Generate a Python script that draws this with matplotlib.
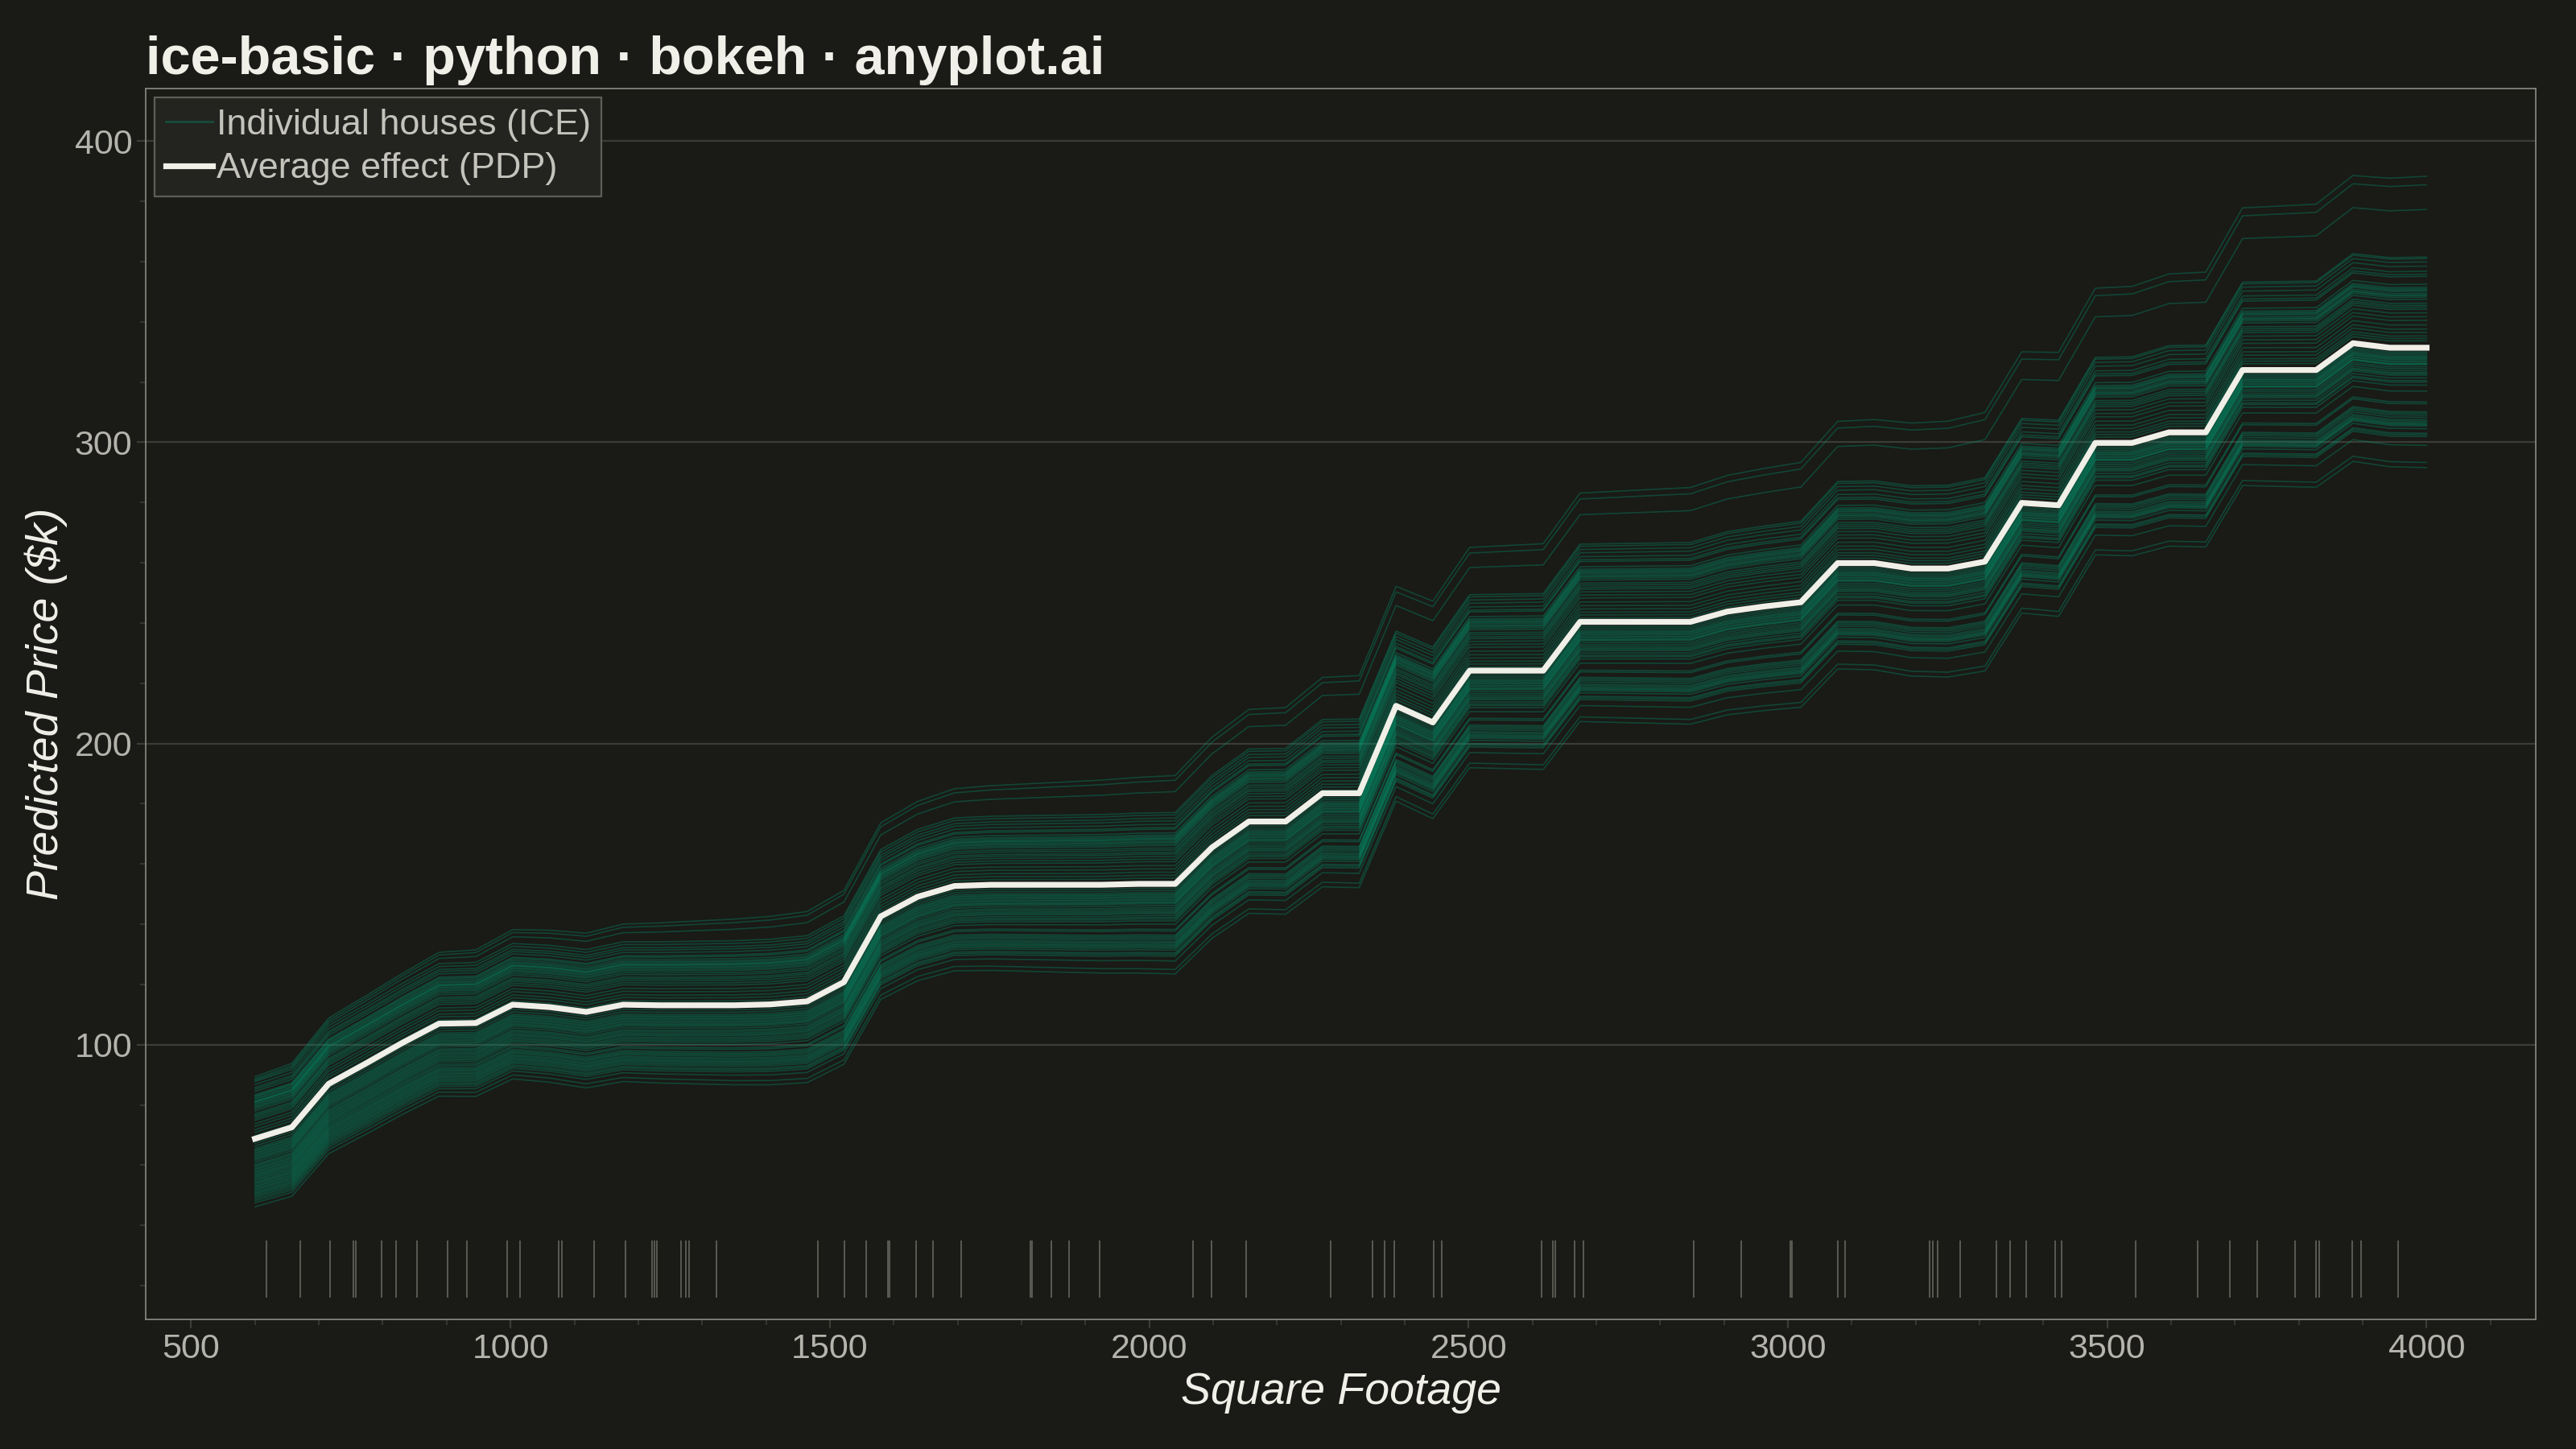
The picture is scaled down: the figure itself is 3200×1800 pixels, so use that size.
import matplotlib.pyplot as plt
import numpy as np

plt.rcParams['font.family'] = ['Liberation Sans', 'DejaVu Sans']

# grid of square footage values used for the partial dependence
sqft_grid = np.linspace(600, 4000, 60)

# average effect (PDP)
pdp_values = [68.8, 72.6, 87.0, 93.7, 100.6, 107.0, 107.2, 113.3, 112.5, 110.9,
              113.3, 113.1, 113.1, 113.1, 113.4, 114.4, 120.8, 142.6, 149.1, 152.7,
              153.1, 153.1, 153.1, 153.1, 153.4, 153.4, 165.5, 174.1, 174.1, 183.5,
              183.5, 212.5, 207.0, 224.2, 224.2, 224.2, 240.4, 240.4, 240.4, 240.4,
              243.8, 245.5, 246.9, 259.9, 259.9, 258.1, 258.1, 260.4, 279.9, 279.1,
              299.8, 299.8, 303.3, 303.3, 324.0, 324.0, 324.0, 332.9, 331.4, 331.4]

# individual house curves: value at 600 sqft and at 4000 sqft
ice_start = [89.4, 88.7, 87.8, 86.8, 85.8, 84.5, 83.4, 82.7, 82.2, 81.8,
             81.3, 80.9, 80.4, 80.0, 79.5, 79.1, 78.0, 77.1, 76.6, 76.1,
             74.9, 73.8, 72.9, 71.8, 70.9, 69.8, 68.5, 67.3, 66.4, 65.6,
             65.1, 64.7, 64.2, 63.8, 63.3, 62.9, 62.4, 62.0, 61.5, 60.9,
             60.2, 59.8, 59.3, 58.8, 58.4, 57.9, 57.5, 57.0, 56.6, 56.2,
             55.8, 55.3, 54.9, 54.4, 54.0, 53.6, 53.1, 52.7, 52.2, 51.8,
             51.3, 50.8, 50.4, 49.9, 49.4, 48.8, 48.2, 47.5, 46.2,
             88.2, 85.2, 83.0, 81.0, 78.6, 75.5]
ice_end = [388.3, 385.5, 377.3, 361.5, 361.0, 359.9, 358.5, 356.8, 355.8, 355.1,
           352.5, 351.5, 351.0, 350.6, 349.5, 348.7, 347.5, 346.2, 345.5, 344.9,
           344.2, 343.0, 341.7, 340.5, 339.0, 337.6, 336.5, 335.3, 334.5, 333.7,
           330.0, 329.0, 328.2, 327.5, 327.0, 326.7, 326.2, 325.8, 325.1, 324.5,
           323.2, 322.8, 322.3, 321.4, 320.5, 319.0, 317.0, 313.4, 312.8, 310.1,
           309.6, 309.0, 308.3, 307.5, 306.1, 305.8, 305.4, 304.5, 303.0, 302.5,
           301.9, 299.0, 293.3, 291.6,
           350.2, 349.0, 348.2, 329.5, 328.5, 327.8, 326.0, 307.0, 306.5, 323.8, 320.0]

# observed square footage of the houses (rug)
house_sqft = [618, 671, 717, 754, 758, 798, 821, 853, 902, 932,
              995, 1015, 1076, 1080, 1131, 1180, 1221, 1225, 1229, 1267, 1274, 1279,
              1323, 1481, 1523, 1557, 1591, 1594, 1635, 1661, 1706,
              1814, 1817, 1847, 1874, 1923, 2069, 2098, 2152,
              2284, 2350, 2369, 2384, 2445, 2458,
              2614, 2632, 2636, 2666, 2680,
              2852, 2927, 3004, 3006, 3078, 3089,
              3222, 3227, 3235, 3270, 3326, 3348, 3373, 3418, 3429,
              3545, 3641, 3692, 3735, 3794, 3827, 3832, 3884, 3897, 3955]

BG = '#1a1a17'
ICE_COLOR = '#009e73'
PDP_COLOR = '#f0efe8'
TEXT = '#f0efe8'
TICK_TEXT = '#b4b3ac'

fig = plt.figure(figsize=(16, 9), dpi=200, facecolor=BG)
ax = fig.add_axes([0.0566, 0.0894, 0.9278, 0.8494], facecolor=BG)

pdp = np.array(pdp_values)
t = (sqft_grid - sqft_grid[0]) / (sqft_grid[-1] - sqft_grid[0])
starts = sorted(ice_start, reverse=True)
ends = sorted(ice_end, reverse=True)
for i in range(len(starts)):
    curve = pdp + (starts[i] - pdp[0]) * (1 - t) + (ends[i] - pdp[-1]) * t
    ax.plot(sqft_grid, curve, color=ICE_COLOR, alpha=0.33, linewidth=0.6,
            label='Individual houses (ICE)' if i == 0 else None, zorder=2)

ax.plot(sqft_grid, pdp, color=PDP_COLOR, linewidth=2.6, label='Average effect (PDP)', zorder=4)

ax.vlines(house_sqft, 16, 35, color='#7a7972', linewidth=0.55, alpha=0.85, zorder=3)

ax.set_xlim(429, 4171)
ax.set_ylim(8.8, 417.4)
ax.set_xticks([500, 1000, 1500, 2000, 2500, 3000, 3500, 4000])
ax.set_xticks(np.arange(500, 4101, 100), minor=True)
ax.set_yticks([100, 200, 300, 400])
ax.set_yticks(np.arange(20, 411, 20), minor=True)
ax.tick_params(axis='both', which='major', labelsize=15.5, labelcolor=TICK_TEXT,
               color='#3c3c37', length=4, width=0.8, pad=2)
ax.tick_params(axis='both', which='minor', color='#3c3c37', length=2.5, width=0.6)

ax.grid(axis='y', color='#3b3b37', linewidth=0.8)
ax.set_axisbelow(True)
for spine in ax.spines.values():
    spine.set_color('#8c8b85')
    spine.set_linewidth(0.6)

ax.set_xlabel('Square Footage', fontsize=20, style='italic', color=TEXT, labelpad=3)
ax.set_ylabel('Predicted Price ($k)', fontsize=20, style='italic', color=TEXT, labelpad=3)

fig.text(0.0566, 0.949, 'ice-basic · python · bokeh · anyplot.ai', fontsize=24,
         fontweight='bold', color=TEXT, ha='left', va='baseline')

leg = ax.legend(loc='upper left', fontsize=16.2, frameon=True, facecolor='#232420',
                edgecolor='#5e5e58', labelcolor='#c4c3bc', handlelength=1.3,
                handletextpad=0.1, borderpad=0.3, labelspacing=0.3,
                borderaxespad=0.25, fancybox=False)
leg.get_frame().set_linewidth(0.8)
leg.get_frame().set_alpha(1)
for line in leg.get_lines():
    if line.get_label().startswith('Individual'):
        line.set_linewidth(1.0)

fig.savefig('out.png', dpi=200, facecolor=BG)
